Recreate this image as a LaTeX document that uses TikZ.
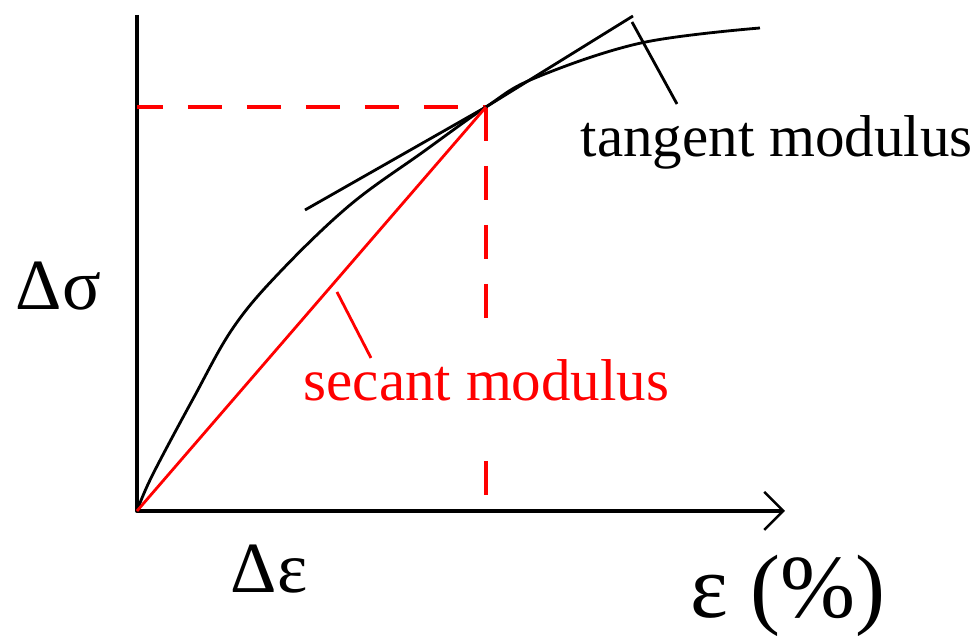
\documentclass[tikz,border=0pt]{standalone}
\usepackage{fontspec}
\setmainfont{Liberation Serif}
\usetikzlibrary{arrows.meta}

\begin{document}
\begin{tikzpicture}[line join=round,
    axis/.style={line width=1.2pt},
    guide/.style={red,line width=1.4pt,dash pattern=on 0.34cm off 0.25cm},
    thin line/.style={line width=0.8pt},
    label/.style={anchor=base west,inner sep=0pt},
    modfont/.style={font=\fontsize{16.8pt}{20pt}\selectfont},
    symfont/.style={font=\fontsize{20.5pt}{24pt}\selectfont}]
  \useasboundingbox (0,0) rectangle (9.80,6.36);
  \coordinate (O) at (1.37,1.25);
  \coordinate (P) at (4.86,5.29);
  \coordinate (ytop) at (1.37,6.21);
  \coordinate (xend) at (7.85,1.25);
  % axes
  \draw[axis,-{Straight Barb[length=1.9mm,width=3.8mm,line width=0.7pt]}]
    (ytop) -- (O) -- (xend);
  % dashed guides to the chosen point
  \draw[guide,dash phase=0.08cm] (O |- P) -- (P);
  \draw[guide] (P) -- (P |- O);
  % stress-strain curve
  \draw[thin line] plot[smooth,tension=0.6] coordinates {
    (O) (1.52,1.60) (1.93,2.37) (2.33,3.08) (2.80,3.64) (3.50,4.31)
    (4.23,4.84) (P) (5.35,5.58) (6.41,5.93) (7.60,6.08)};
  % tangent
  \coordinate (t1) at (3.05,4.26);
  \coordinate (t2) at (6.33,6.20);
  \draw[thin line] (t1) -- (P) -- (t2);
  \coordinate (tl1) at (6.32,6.14);
  \coordinate (tl2) at (6.77,5.32);
  \draw[thin line] (tl1) -- (tl2);
  \node[label,modfont] (tanlabel) at (5.80,4.79) {tangent modulus};
  % secant
  \node[label,modfont,red,fill=white,inner ysep=0.33cm,text depth=0.18cm] (seclabel) at (3.03,2.35) {secant modulus};
  \draw[thin line,red] (O) -- (P);
  \coordinate (sl1) at (3.37,3.44);
  \coordinate (sl2) at (3.71,2.78);
  \draw[thin line,red] (sl1) -- (sl2);
  % axis labels
  \node[label,symfont] (dsig) at (0.15,3.26) {Δσ};
  \node[label,symfont] (deps) at (2.30,0.43) {Δε};
  \node[label,font=\fontsize{25.6pt}{30pt}\selectfont] (eps) at (6.90,0.18) {ε (\%)};
\end{tikzpicture}
\end{document}
